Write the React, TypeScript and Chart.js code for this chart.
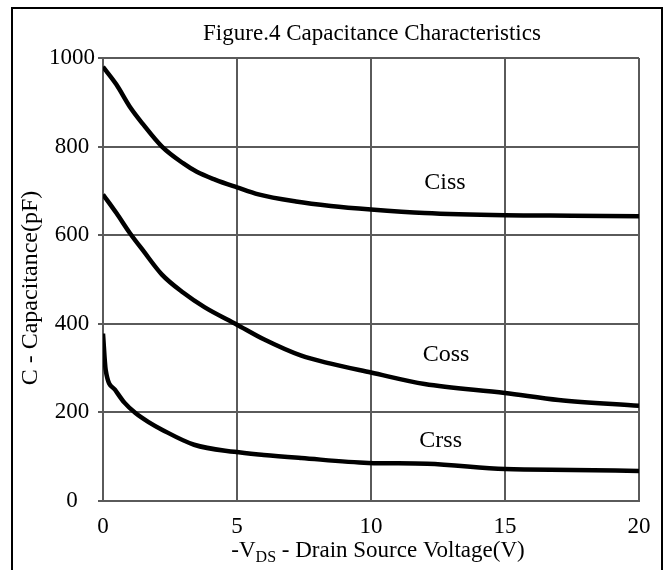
import { useEffect, useRef } from "react";
import { Chart, registerables } from "chart.js";

Chart.register(...registerables);

const SERIF = '"Liberation Serif", "Times New Roman", serif';

const chartTitle = "Figure.4 Capacitance Characteristics";
const yAxisTitle = "C - Capacitance(pF)";
const xAxisTitleParts = ["-V", "DS", " - Drain Source Voltage(V)"];

const cissVoltage = [0, 0.5, 1, 1.5, 2.2, 3, 3.5, 4.2, 5, 5.8, 7.2, 8.5, 10, 12, 15, 17.5, 20];
const cissCap = [980, 940, 890, 850, 800, 762, 743, 725, 708, 692, 676, 666, 658, 650, 645, 644, 643];

const cossVoltage = [0, 0.5, 1, 1.5, 2.2, 3, 3.8, 5, 6, 7.4, 8.5, 10, 12, 15, 17, 20];
const cossCap = [692, 650, 605, 565, 511, 470, 437, 398, 365, 328, 310, 290, 264, 244, 228, 215];

const crssVoltage = [0, 0.1, 0.45, 0.8, 1.2, 1.7, 2.2, 3.4, 4.9, 6, 7.4, 9.9, 12.1, 15, 17.5, 20];
const crssCap = [378, 296, 251, 222, 199, 178, 161, 127, 111, 104, 97, 86, 84, 72, 70, 68];

const curveLabels = ["Ciss", "Coss", "Crss"];
const curveLabelVoltage = [12.76, 12.8, 12.6];
const curveLabelCap = [719, 330, 136];

const xTickValues = [0, 5, 10, 15, 20];
const yTickValues = [0, 200, 400, 600, 800, 1000];

const toPoints = (xs: number[], ys: number[]) => xs.map((x, i) => ({ x, y: ys[i] }));

export default function App() {
  const ref = useRef<HTMLCanvasElement>(null);

  useEffect(() => {
    const canvas = ref.current;
    if (!canvas) return;

    const framePlugin = {
      id: "frame",
      beforeDraw(chart: any) {
        const ctx = chart.ctx;
        ctx.save();
        ctx.fillStyle = "#ffffff";
        ctx.fillRect(0, 0, chart.width, chart.height);
        ctx.strokeStyle = "#000000";
        ctx.lineWidth = 2;
        ctx.strokeRect(12, 8, 650, 620);
        ctx.restore();
      },
    };

    const textPlugin = {
      id: "texts",
      afterDraw(chart: any) {
        const ctx = chart.ctx;
        const xs = chart.scales.x;
        const ys = chart.scales.y;
        ctx.save();
        ctx.fillStyle = "#000";

        // Title
        ctx.font = `23px ${SERIF}`;
        ctx.textAlign = "center";
        ctx.textBaseline = "alphabetic";
        ctx.fillText(chartTitle, 372, 40);

        // Curve labels
        ctx.font = `24px ${SERIF}`;
        ctx.textBaseline = "middle";
        curveLabels.forEach((name, i) => {
          ctx.fillText(name, xs.getPixelForValue(curveLabelVoltage[i]), ys.getPixelForValue(curveLabelCap[i]));
        });

        // X axis title with subscript
        const mainFont = `23px ${SERIF}`;
        const subFont = `16px ${SERIF}`;
        ctx.textAlign = "left";
        ctx.textBaseline = "alphabetic";
        ctx.font = mainFont;
        const w0 = ctx.measureText(xAxisTitleParts[0]).width;
        const w2 = ctx.measureText(xAxisTitleParts[2]).width;
        ctx.font = subFont;
        const w1 = ctx.measureText(xAxisTitleParts[1]).width;
        const total = w0 + w1 + w2;
        let x = 378 - total / 2;
        const base = 557;
        ctx.font = mainFont;
        ctx.fillText(xAxisTitleParts[0], x, base);
        x += w0;
        ctx.font = subFont;
        ctx.fillText(xAxisTitleParts[1], x, base + 5);
        x += w1;
        ctx.font = mainFont;
        ctx.fillText(xAxisTitleParts[2], x, base);

        // Y axis title
        ctx.translate(31, 288);
        ctx.rotate(-Math.PI / 2);
        ctx.font = `24px ${SERIF}`;
        ctx.textAlign = "center";
        ctx.textBaseline = "middle";
        ctx.fillText(yAxisTitle, 0, 0);
        ctx.restore();
      },
    };

    const lineStyle = {
      borderColor: "#000",
      backgroundColor: "#000",
      borderWidth: 4.5,
      pointRadius: 0,
      cubicInterpolationMode: "monotone" as const,
      fill: false,
    };

    const gridColor = "#5a5a5a";

    const chart = new Chart(canvas, {
      type: "line",
      data: {
        datasets: [
          { label: "Ciss", data: toPoints(cissVoltage, cissCap), ...lineStyle },
          { label: "Coss", data: toPoints(cossVoltage, cossCap), ...lineStyle },
          { label: "Crss", data: toPoints(crssVoltage, crssCap), ...lineStyle },
        ],
      },
      options: {
        animation: false,
        responsive: true,
        maintainAspectRatio: false,
        layout: { padding: { left: 0, top: 58, right: 32, bottom: 0 } },
        plugins: {
          legend: { display: false },
          title: { display: false },
          tooltip: { enabled: false },
        },
        scales: {
          x: {
            type: "linear",
            min: 0,
            max: 20,
            afterBuildTicks: (s: any) => {
              s.ticks = xTickValues.map((v) => ({ value: v }));
            },
            afterFit: (s: any) => {
              s.height = 69;
            },
            grid: { color: gridColor, lineWidth: 2, drawTicks: false },
            border: { color: gridColor, width: 2 },
            ticks: {
              color: "#000",
              padding: 12,
              font: { family: SERIF, size: 23 },
              maxRotation: 0,
              callback: (v: any) => String(v),
            },
          },
          y: {
            type: "linear",
            min: 0,
            max: 1000,
            afterBuildTicks: (s: any) => {
              s.ticks = yTickValues.map((v) => ({ value: v }));
            },
            afterFit: (s: any) => {
              s.width = 103;
            },
            grid: { color: gridColor, lineWidth: 2, tickLength: 5 },
            border: { color: gridColor, width: 2 },
            ticks: {
              color: "#000",
              padding: 3,
              crossAlign: "center",
              font: { family: SERIF, size: 23 },
              callback: (v: any) => String(v),
            },
          },
        },
      },
      plugins: [framePlugin, textPlugin],
    });

    return () => chart.destroy();
  }, []);

  return (
    <div style={{ position: "absolute", left: 0, top: 0, width: 671, height: 570 }}>
      <canvas ref={ref} />
    </div>
  );
}
